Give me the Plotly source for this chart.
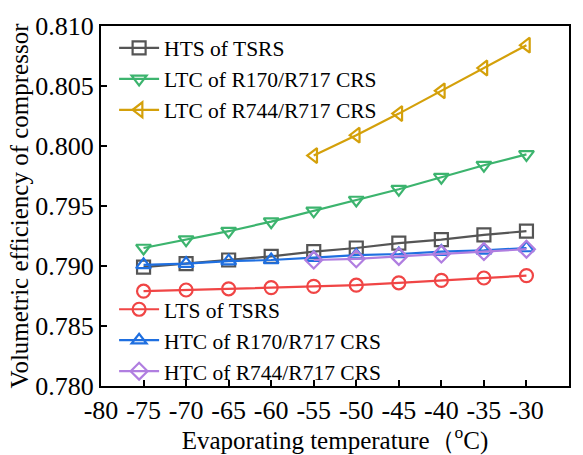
import plotly.graph_objects as go

temps_all = [-75, -70, -65, -60, -55, -50, -45, -40, -35, -30]
temps_744 = [-55, -50, -45, -40, -35, -30]

hts_tsrs = [0.7899, 0.7902, 0.7905, 0.7908, 0.7912, 0.7915, 0.7919, 0.7922, 0.7926, 0.7929]
ltc_r170 = [0.7915, 0.7922, 0.7929, 0.7937, 0.7946, 0.7955, 0.7964, 0.7974, 0.7984, 0.7993]
ltc_r744 = [0.7992, 0.8009, 0.8027, 0.8046, 0.8065, 0.8084]
lts_tsrs = [0.7879, 0.7880, 0.7881, 0.7882, 0.7883, 0.7884, 0.7886, 0.7888, 0.7890, 0.7892]
htc_r170 = [0.7901, 0.7902, 0.7904, 0.7905, 0.7907, 0.7909, 0.7910, 0.7912, 0.7913, 0.7915]
htc_r744 = [0.7905, 0.7906, 0.7908, 0.7910, 0.7912, 0.7914]

x_tick_vals = [-80, -75, -70, -65, -60, -55, -50, -45, -40, -35, -30, -25]
x_tick_text = ["-80", "-75", "-70", "-65", "-60", "-55", "-50", "-45", "-40", "-35", "-30", "-25"]
y_tick_vals = [0.780, 0.785, 0.790, 0.795, 0.800, 0.805, 0.810]
y_tick_text = ["0.780", "0.785", "0.790", "0.795", "0.800", "0.805", "0.810"]

FONT = "Liberation Serif"

series = [
    ("HTS of TSRS", temps_all, hts_tsrs, "#555555", "square-open", "legend"),
    ("LTC of R170/R717 CRS", temps_all, ltc_r170, "#3cb46e", "triangle-down-open", "legend"),
    ("LTC of R744/R717 CRS", temps_744, ltc_r744, "#d4a00a", "triangle-left-open", "legend"),
    ("LTS of TSRS", temps_all, lts_tsrs, "#f04545", "circle-open", "legend2"),
    ("HTC of R170/R717 CRS", temps_all, htc_r170, "#1f6fe0", "triangle-up-open", "legend2"),
    ("HTC of R744/R717 CRS", temps_744, htc_r744, "#b07ee0", "diamond-open", "legend2"),
]

fig = go.Figure()
for name, xs, ys, color, sym, leg in series:
    fig.add_trace(go.Scatter(
        x=xs, y=ys, name=name, mode="lines+markers",
        line=dict(color=color, width=2.2),
        marker=dict(symbol=sym, size=13, color=color, line=dict(width=2.2, color=color)),
        legend=leg,
    ))

fig.update_layout(
    width=583, height=455,
    margin=dict(l=101, r=14, t=21, b=62),
    plot_bgcolor="white", paper_bgcolor="white",
    font=dict(family=FONT, size=22, color="black"),
    legend=dict(x=0.028, y=0.996, xanchor="left", yanchor="top",
                bgcolor="rgba(0,0,0,0)", font=dict(size=21.5, family=FONT),
                tracegroupgap=0, itemwidth=40),
    legend2=dict(x=0.028, y=0.270, xanchor="left", yanchor="top",
                 bgcolor="rgba(0,0,0,0)", font=dict(size=21.5, family=FONT),
                 tracegroupgap=0, itemwidth=40),
    xaxis=dict(
        range=[-80, -25], tickmode="array", tickvals=x_tick_vals, ticktext=x_tick_text,
        ticks="inside", ticklen=6, tickwidth=2, tickcolor="black",
        showline=True, linewidth=2, linecolor="black", mirror=True,
        showgrid=False, zeroline=False,
        tickfont=dict(size=26, family=FONT),
        title=dict(text="Evaporating temperature（<sup>o</sup>C)", font=dict(size=25, family=FONT), standoff=0),
    ),
    yaxis=dict(
        range=[0.780, 0.810], tickmode="array", tickvals=y_tick_vals, ticktext=y_tick_text,
        ticks="inside", ticklen=6, tickwidth=2, tickcolor="black",
        showline=True, linewidth=2, linecolor="black", mirror=True,
        showgrid=False, zeroline=False,
        tickfont=dict(size=26, family=FONT),
        title=dict(text="Volumetric efficiency of compressor", font=dict(size=25, family=FONT), standoff=0),
    ),
)

fig.write_html("out.html")
